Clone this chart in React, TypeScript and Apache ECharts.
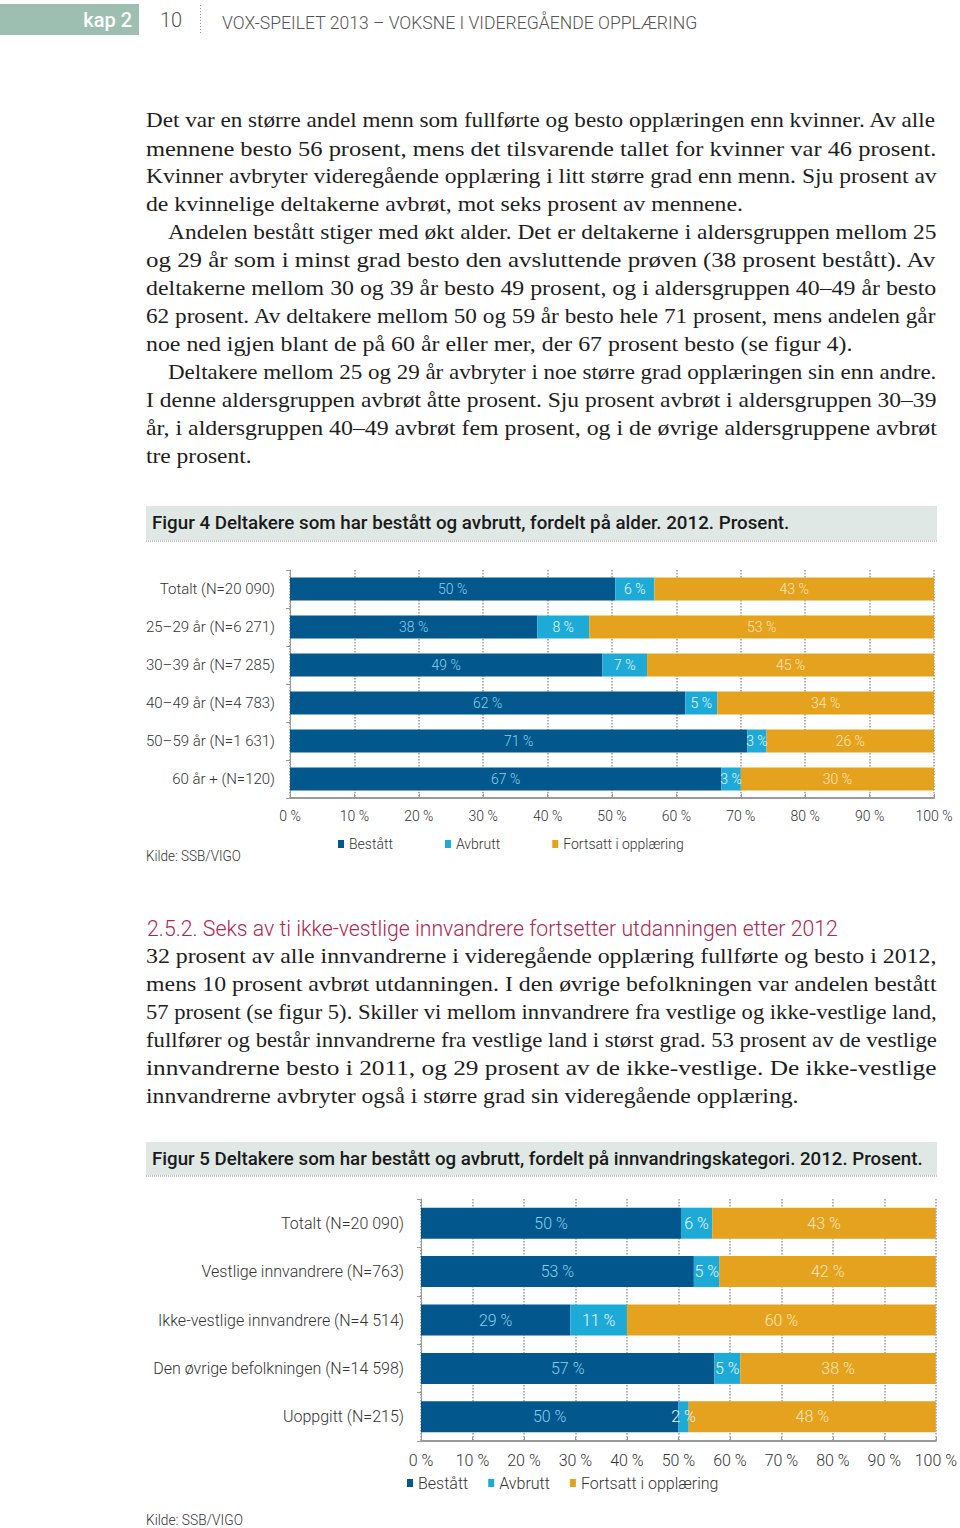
import React, { useEffect, useRef } from "react";
import * as echarts from "echarts";

// ---------- DATA ----------
const seriesNames = ["Bestått", "Avbrutt", "Fortsatt i opplæring"];

const ageCategories = [
  "Totalt (N=20 090)",
  "25–29 år (N=6 271)",
  "30–39 år (N=7 285)",
  "40–49 år (N=4 783)",
  "50–59 år (N=1 631)",
  "60 år + (N=120)",
];
const ageBestatt = [50, 38, 49, 62, 71, 67];
const ageAvbrutt = [6, 8, 7, 5, 3, 3];
const ageFortsatt = [43, 53, 45, 34, 26, 30];

const immCategories = [
  "Totalt (N=20 090)",
  "Vestlige innvandrere (N=763)",
  "Ikke-vestlige innvandrere (N=4 514)",
  "Den øvrige befolkningen (N=14 598)",
  "Uoppgitt (N=215)",
];
const immBestatt = [50, 53, 29, 57, 50];
const immAvbrutt = [6, 5, 11, 5, 2];
const immFortsatt = [43, 42, 60, 38, 48];

const xTickValues = [0, 10, 20, 30, 40, 50, 60, 70, 80, 90, 100];

// ---------- TEXT ----------
const headerChapter = "kap 2";
const headerPage = "10";
const headerTitle = "VOX-SPEILET 2013 – VOKSNE I VIDEREGÅENDE OPPLÆRING";

const para1 = [
  "Det var en større andel menn som fullførte og besto opplæringen enn kvinner. Av alle",
  "mennene besto 56 prosent, mens det tilsvarende tallet for kvinner var 46 prosent.",
  "Kvinner avbryter videregående opplæring i litt større grad enn menn. Sju prosent av",
  "de kvinnelige deltakerne avbrøt, mot seks prosent av mennene.",
];
const para2 = [
  "Andelen bestått stiger med økt alder. Det er deltakerne i aldersgruppen mellom 25",
  "og 29 år som i minst grad besto den avsluttende prøven (38 prosent bestått). Av",
  "deltakerne mellom 30 og 39 år besto 49 prosent, og i aldersgruppen 40–49 år besto",
  "62 prosent. Av deltakere mellom 50 og 59 år besto hele 71 prosent, mens andelen går",
  "noe ned igjen blant de på 60 år eller mer, der 67 prosent besto (se figur 4).",
];
const para3 = [
  "Deltakere mellom 25 og 29 år avbryter i noe større grad opplæringen sin enn andre.",
  "I denne aldersgruppen avbrøt åtte prosent. Sju prosent avbrøt i aldersgruppen 30–39",
  "år, i aldersgruppen 40–49 avbrøt fem prosent, og i de øvrige aldersgruppene avbrøt",
  "tre prosent.",
];
const fig4Title = "Figur 4 Deltakere som har bestått og avbrutt, fordelt på alder. 2012. Prosent.";
const sourceText = "Kilde: SSB/VIGO";
const heading = "2.5.2. Seks av ti ikke-vestlige innvandrere fortsetter utdanningen etter 2012";
const para4 = [
  "32 prosent av alle innvandrerne i videregående opplæring fullførte og besto i 2012,",
  "mens 10 prosent avbrøt utdanningen. I den øvrige befolkningen var andelen bestått",
  "57 prosent (se figur 5). Skiller vi mellom innvandrere fra vestlige og ikke-vestlige land,",
  "fullfører og består innvandrerne fra vestlige land i størst grad. 53 prosent av de vestlige",
  "innvandrerne besto i 2011, og 29 prosent av de ikke-vestlige. De ikke-vestlige",
  "innvandrerne avbryter også i større grad sin videregående opplæring.",
];
const fig5Title = "Figur 5 Deltakere som har bestått og avbrutt, fordelt på innvandringskategori. 2012. Prosent.";

// ---------- STYLE ----------
const C_BLUE = "#02588c";
const C_CYAN = "#1eaad6";
const C_ORANGE = "#e5a21e";
const SANS = "Roboto";
const SERIF = '"Liberation Serif"';
const BODY_SIZE = 22;

let measureCtx: CanvasRenderingContext2D | null = null;
function measure(text: string, weight: string | number, size: number, family: string) {
  if (!measureCtx) measureCtx = document.createElement("canvas").getContext("2d");
  if (!measureCtx) return text.length * size * 0.5;
  measureCtx.font = `${weight} ${size}px ${family}`;
  return measureCtx.measureText(text).width;
}

function fitScale(text: string, weight: string | number, size: number, family: string, target: number) {
  const w = measure(text, weight, size, family);
  if (w <= 0) return 1;
  return Math.max(0.8, Math.min(1.25, target / w));
}

function textEl(
  text: string,
  x: number,
  y: number,
  opts: {
    size: number;
    family: string;
    weight?: string | number;
    fill?: string;
    align?: string;
    fitWidth?: number;
    scaleX?: number;
  }
) {
  const weight = opts.weight ?? "normal";
  let scaleX = opts.scaleX ?? 1;
  if (opts.fitWidth) scaleX = fitScale(text, weight, opts.size, opts.family, opts.fitWidth);
  return {
    type: "text",
    x,
    y,
    scaleX,
    silent: true,
    style: {
      text,
      fill: opts.fill ?? "#222",
      fontSize: opts.size,
      fontFamily: opts.family,
      fontWeight: weight,
      textAlign: opts.align ?? "left",
      textVerticalAlign: "middle",
    },
  };
}

function paragraph(lines: string[], startY: number, indentFirst: boolean) {
  const LEFT = 146;
  const RIGHT = 937;
  const xs = lines.map((_, i) => (i === 0 && indentFirst ? 168 : LEFT));
  const scales = lines.map((line, i) => fitScale(line, "normal", BODY_SIZE, SERIF, RIGHT - xs[i]));
  const justified = scales.slice(0, -1);
  const avg = justified.length ? justified.reduce((a, b) => a + b, 0) / justified.length : 1.1;
  return lines.map((line, i) => {
    const last = i === lines.length - 1;
    return textEl(line, xs[i], startY + i * 28, {
      size: BODY_SIZE,
      family: SERIF,
      fill: "#1e1e1e",
      scaleX: last ? Math.min(avg, 1.15) : scales[i],
    });
  });
}

function normalize(rows: number[][]) {
  // 100 % stacked bars: each row is scaled so its parts fill the full width
  const n = rows[0].length;
  const sums = Array.from({ length: n }, (_, j) => rows.reduce((s, r) => s + r[j], 0));
  return rows.map((r) => r.map((v, j) => (v / sums[j]) * 100));
}

export default function App() {
  const ref = useRef<HTMLDivElement>(null);

  useEffect(() => {
    if (!ref.current) return;
    const chart = echarts.init(ref.current, null, { renderer: "svg", width: 960, height: 1528 });

    const ageRaw = [ageBestatt, ageAvbrutt, ageFortsatt];
    const immRaw = [immBestatt, immAvbrutt, immFortsatt];
    const ageNorm = normalize(ageRaw);
    const immNorm = normalize(immRaw);
    const colors = [C_BLUE, C_CYAN, C_ORANGE];
    const labelColors = ["#86d0f2", "#e8f7fc", "#fbe8bc"];

    const graphics: any[] = [
      // header
      { type: "rect", silent: true, shape: { x: 0, y: 4, width: 139, height: 31 }, style: { fill: "#9dbfb2" } },
      textEl(headerChapter, 132, 20, { size: 20, family: SANS, weight: 500, fill: "#ffffff", align: "right" }),
      textEl(headerPage, 160, 20, { size: 20, family: SANS, weight: 300, fill: "#555" }),
      {
        type: "line",
        silent: true,
        shape: { x1: 200.5, y1: 5, x2: 200.5, y2: 35 },
        style: { stroke: "#999", lineWidth: 1, lineDash: [1, 2] },
      },
      textEl(headerTitle, 222, 22, { size: 18, family: SANS, weight: 300, fill: "#555", fitWidth: 476 }),
      // body text
      ...paragraph(para1, 120, false),
      ...paragraph(para2, 232, true),
      ...paragraph(para3, 372, true),
      // figure 4 title
      { type: "rect", silent: true, shape: { x: 146, y: 506, width: 791, height: 34 }, style: { fill: "#dfe8e4" } },
      {
        type: "line",
        silent: true,
        shape: { x1: 146, y1: 541, x2: 937, y2: 541 },
        style: { stroke: "#888", lineWidth: 1, lineDash: [1, 1] },
      },
      textEl(fig4Title, 152, 523, { size: 18, family: SANS, weight: 500, fill: "#1a1a1a", fitWidth: 638 }),
      textEl(sourceText, 146, 856, { size: 14, family: SANS, weight: 300, fill: "#333", fitWidth: 95 }),
      // section heading + text
      textEl(heading, 147, 928, { size: 22, family: SANS, weight: 300, fill: "#b0264f", fitWidth: 691 }),
      ...paragraph(para4, 956, false),
      // figure 5 title
      { type: "rect", silent: true, shape: { x: 146, y: 1142, width: 791, height: 33 }, style: { fill: "#dfe8e4" } },
      {
        type: "line",
        silent: true,
        shape: { x1: 146, y1: 1176, x2: 937, y2: 1176 },
        style: { stroke: "#888", lineWidth: 1, lineDash: [1, 1] },
      },
      textEl(fig5Title, 152, 1159, { size: 18, family: SANS, weight: 500, fill: "#1a1a1a", fitWidth: 771 }),
      textEl(sourceText, 146, 1520, { size: 14, family: SANS, weight: 300, fill: "#333", fitWidth: 97 }),
    ];

    const makeXAxis = (gridIndex: number, fontSize: number, margin: number) => ({
      type: "value",
      gridIndex,
      min: 0,
      max: 100,
      interval: 10,
      axisLine: { show: true, lineStyle: { color: "#9a9a9a", width: 2 } },
      axisTick: { show: true, inside: true, length: 4, lineStyle: { color: "#9a9a9a" } },
      axisLabel: {
        color: "#333",
        fontSize,
        fontFamily: SANS,
        fontWeight: 300,
        margin,
        formatter: (v: number) => (xTickValues.includes(v) ? `${v} %` : ""),
      },
      splitLine: { show: true, lineStyle: { color: "#9a9a9a", type: "dotted", width: 1.5 } },
    });

    const makeYAxis = (gridIndex: number, data: string[], fontSize: number, margin: number) => ({
      type: "category",
      gridIndex,
      data,
      inverse: true,
      axisLine: { show: true, lineStyle: { color: "#9a9a9a", width: 1 } },
      axisTick: { show: true, length: 4, lineStyle: { color: "#9a9a9a" } },
      axisLabel: { color: "#333", fontSize, fontFamily: SANS, fontWeight: 300, margin },
      splitLine: { show: false },
    });

    const makeSeries = (
      norm: number[][],
      raw: number[][],
      axisIndex: number,
      stack: string,
      barWidth: number,
      fontSize: number
    ) =>
      norm.map((vals, k) => ({
        name: seriesNames[k],
        type: "bar",
        stack,
        xAxisIndex: axisIndex,
        yAxisIndex: axisIndex,
        barWidth,
        data: vals,
        itemStyle: { color: colors[k] },
        silent: true,
        emphasis: { disabled: true },
        label: {
          show: true,
          position: "inside",
          color: labelColors[k],
          fontSize,
          fontFamily: SANS,
          fontWeight: 300,
          formatter: (p: any) => `${raw[k][p.dataIndex]} %`,
        },
      }));

    const legendBase = {
      orient: "horizontal",
      icon: "rect",
      itemWidth: 6,
      itemHeight: 8,
      padding: 0,
      selectedMode: false,
      data: seriesNames,
    };

    const option: any = {
      animation: false,
      backgroundColor: "#ffffff",
      textStyle: { fontFamily: SANS },
      grid: [
        { left: 290, top: 570, width: 644, height: 228, containLabel: false },
        { left: 421, top: 1199, width: 515, height: 242, containLabel: false },
      ],
      xAxis: [makeXAxis(0, 14, 11), makeXAxis(1, 16, 11)],
      yAxis: [makeYAxis(0, ageCategories, 15, 15), makeYAxis(1, immCategories, 16, 17)],
      legend: [
        {
          ...legendBase,
          left: 338,
          top: 837,
          itemGap: 52,
          textStyle: { color: "#333", fontSize: 14, fontFamily: SANS, fontWeight: 300 },
        },
        {
          ...legendBase,
          left: 407,
          top: 1475,
          itemGap: 20,
          textStyle: { color: "#333", fontSize: 16, fontFamily: SANS, fontWeight: 300 },
        },
      ],
      series: [
        ...makeSeries(ageNorm, ageRaw, 0, "age", 23, 14),
        ...makeSeries(immNorm, immRaw, 1, "imm", 31, 16),
      ],
      graphic: { elements: graphics },
    };

    chart.setOption(option);
    return () => chart.dispose();
  }, []);

  return (
    <div
      ref={ref}
      style={{ position: "absolute", left: 0, top: 0, width: 960, height: 1528, background: "#fff" }}
    />
  );
}
